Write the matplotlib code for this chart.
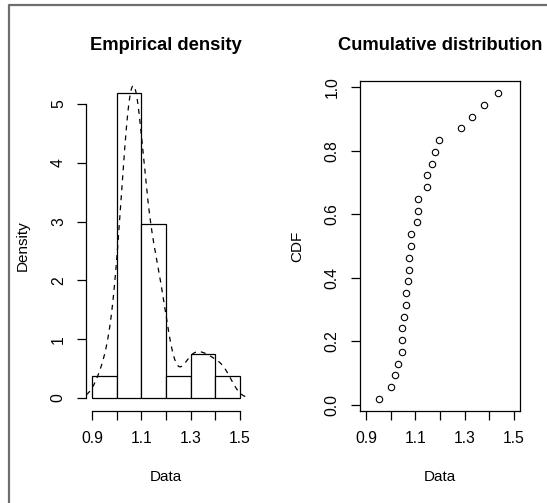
import numpy as np
import matplotlib
matplotlib.use("Agg")
import matplotlib.pyplot as plt
from matplotlib.lines import Line2D

data = [0.951, 1.002, 1.019, 1.029, 1.045, 1.045, 1.047, 1.055, 1.063,
        1.063, 1.071, 1.075, 1.075, 1.083, 1.083, 1.106, 1.109, 1.109,
        1.148, 1.148, 1.168, 1.180, 1.196, 1.287, 1.330, 1.377, 1.434]
breaks = [0.9, 1.0, 1.1, 1.2, 1.3, 1.4, 1.5]
x_ticks = [0.9, 1.0, 1.1, 1.2, 1.3, 1.4, 1.5]
x_tick_labels = ["0.9", "", "1.1", "", "1.3", "", "1.5"]
dens_ticks = [0, 1, 2, 3, 4, 5]
cdf_ticks = [0.0, 0.2, 0.4, 0.6, 0.8, 1.0]
cdf_tick_labels = ["0.0", "0.2", "0.4", "0.6", "0.8", "1.0"]

plt.rcParams['font.family'] = ['Liberation Sans', 'DejaVu Sans']
plt.rcParams['font.size'] = 11

x = np.array(data)
n = len(x)

# gaussian kernel density, bandwidth like R's bw.nrd0
q75, q25 = np.percentile(x, [75, 25])
bw = 0.9 * min(np.std(x, ddof=1), (q75 - q25) / 1.34) * n ** -0.2
grid = np.linspace(x.min() - 3 * bw, x.max() + 3 * bw, 512)
kde = np.exp(-0.5 * ((grid[:, None] - x[None, :]) / bw) ** 2).sum(axis=1)
kde = kde / (n * bw * np.sqrt(2 * np.pi))

# empirical cdf positions
cdf = (np.arange(1, n + 1) - 0.5) / n

W, H = 547, 503
fig = plt.figure(figsize=(W / 100, H / 100), dpi=100)
fig.patch.set_facecolor('white')

tick_kw = dict(direction='out', length=6.5, width=0.9, pad=8, labelsize=11.3)

# ---- left: histogram + density ----
ax1 = fig.add_axes([86 / W, 1 - 411 / H, 160 / W, 330 / H])
ax1.hist(x, bins=breaks, density=True, facecolor='white', edgecolor='black', linewidth=0.9)
ax1.plot(grid, kde, color='black', linestyle=(0, (4, 4)), linewidth=0.9)
ax1.set_xlim(0.876, 1.524)
ax1.set_ylim(-0.22, 5.39)
for s in ['top', 'right']:
    ax1.spines[s].set_visible(False)
ax1.spines['left'].set_bounds(0, 5)
ax1.spines['bottom'].set_bounds(0.9, 1.5)
ax1.set_xticks(x_ticks)
ax1.set_xticklabels(x_tick_labels)
ax1.set_yticks(dens_ticks)
ax1.set_yticklabels([str(t) for t in dens_ticks], rotation=90, va='center')
ax1.tick_params(**tick_kw)
ax1.set_title('Empirical density', fontweight='bold', fontsize=13.2, y=1.094, pad=0)
ax1.set_xlabel('Data')
ax1.set_ylabel('Density')

# ---- right: cumulative distribution ----
ax2 = fig.add_axes([360 / W, 1 - 411 / H, 160 / W, 330 / H])
ax2.plot(x, cdf, linestyle='none', marker='o', markersize=4.6,
         markerfacecolor='none', markeredgecolor='black', markeredgewidth=0.8)
ax2.set_xlim(0.876, 1.524)
ax2.set_ylim(-0.02, 1.02)
ax2.set_xticks(x_ticks)
ax2.set_xticklabels(x_tick_labels)
ax2.set_yticks(cdf_ticks)
ax2.set_yticklabels(cdf_tick_labels, rotation=90, va='center')
ax2.tick_params(**tick_kw)
ax2.set_title('Cumulative distribution', fontweight='bold', fontsize=13.2, y=1.094, pad=0)
ax2.set_xlabel('Data')
ax2.set_ylabel('CDF')

for ax in (ax1, ax2):
    ax.xaxis.label.set_verticalalignment('center')
    ax.xaxis.set_label_coords(0.5, -66 / 330)
    ax.yaxis.label.set_verticalalignment('center')
    ax.yaxis.set_label_coords(-63 / 160, 0.5)
    for s in ax.spines.values():
        s.set_linewidth(0.9)

# grey frame around the plotting device (left and top edges visible)
bx, by = 9 / W, 1 - 5 / H
fig.add_artist(Line2D([bx, bx, 1.0], [0.0, by, by], transform=fig.transFigure,
                      color='#6e6e6e', linewidth=1.6))

fig.savefig('out.png', dpi=100)
